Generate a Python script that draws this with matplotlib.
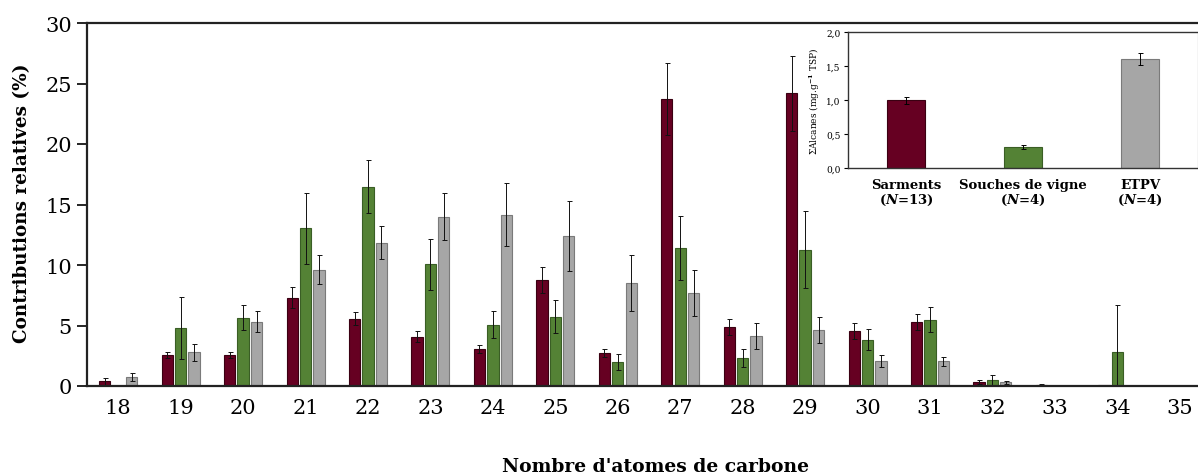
import numpy as np
import matplotlib.pyplot as plt
from matplotlib.ticker import FuncFormatter

plt.rcParams['font.family'] = 'DejaVu Serif'
plt.rcParams['mathtext.fontset'] = 'custom'
plt.rcParams['mathtext.it'] = 'DejaVu Serif:italic:bold'
plt.rcParams['mathtext.rm'] = 'DejaVu Serif:bold'

# nombre d'atomes de carbone
carbons = list(range(18, 36))

# contributions relatives (%) et ecarts-types
sarments = [0.4, 2.56, 2.56, 7.29, 5.56, 4.07, 3.05, 8.75, 2.75, 23.74, 4.9, 24.2, 4.54, 5.31, 0.36, 0.1, 0.05, 0]
sarments_err = [0.3, 0.28, 0.28, 0.88, 0.55, 0.44, 0.3, 1.07, 0.33, 2.97, 0.66, 3.1, 0.66, 0.66, 0.17, 0.05, 0, 0]
souches = [0, 4.76, 5.64, 13.04, 16.48, 10.07, 5.07, 5.73, 1.98, 11.39, 2.31, 11.25, 3.83, 5.48, 0.5, 0, 2.78, 0]
souches_err = [0, 2.56, 1.04, 2.94, 2.2, 2.1, 1.12, 1.35, 0.63, 2.67, 0.72, 3.19, 0.85, 1.04, 0.44, 0, 3.9, 0]
etpv = [0.75, 2.78, 5.31, 9.6, 11.83, 14.0, 14.17, 12.38, 8.53, 7.67, 4.16, 4.62, 2.06, 2.04, 0.3, 0, 0, 0]
etpv_err = [0.33, 0.72, 0.88, 1.2, 1.37, 1.95, 2.58, 2.9, 2.3, 1.9, 1.07, 1.05, 0.47, 0.38, 0.14, 0, 0, 0]

# encart : somme des alcanes (mg/g TSP)
inset_labels = ['Sarments\n($N$=13)', 'Souches de vigne\n($N$=4)', 'ETPV\n($N$=4)']
inset_vals = [1.0, 0.31, 1.61]
inset_err = [0.05, 0.03, 0.09]

c_red, c_green, c_gray = '#660022', '#548235', '#a6a6a6'
e_red, e_green, e_gray = '#3a0012', '#3a5e25', '#7a7a7a'

fig = plt.figure(figsize=(11.98, 4.77), dpi=100)
W, H = 1198, 477
ax = fig.add_axes([87/W, 90/H, (1211-87)/W, 363/H])

x = np.array(carbons, dtype=float)
w, off = 0.18, 0.215
ekw = dict(ecolor='#111111', elinewidth=0.7, capsize=1.8, capthick=0.7)
ax.bar(x - off, sarments, w, yerr=sarments_err, color=c_red, edgecolor=e_red, linewidth=0.8, error_kw=ekw)
ax.bar(x, souches, w, yerr=souches_err, color=c_green, edgecolor=e_green, linewidth=0.8, error_kw=ekw)
ax.bar(x + off, etpv, w, yerr=etpv_err, color=c_gray, edgecolor=e_gray, linewidth=0.8, error_kw=ekw)

ax.set_xlim(17.5, 35.5)
ax.set_ylim(0, 30)
ax.set_yticks(range(0, 31, 5))
ax.set_xticks(carbons)
ax.tick_params(axis='y', length=7, width=1.2, labelsize=15, pad=4)
ax.tick_params(axis='x', length=0, labelsize=15, pad=9)
for s in ['left', 'bottom', 'top']:
    ax.spines[s].set_linewidth(1.6)
    ax.spines[s].set_color('#222222')
ax.spines['right'].set_visible(False)

fig.text(22/W, 1 - 203/H, 'Contributions relatives (%)', rotation=90, ha='center', va='center',
         fontsize=13.2, fontweight='bold')
fig.text(656/W, 1 - 467/H, "Nombre d'atomes de carbone", ha='center', va='center',
         fontsize=13.5, fontweight='bold')

# encart
ins = fig.add_axes([847.7/W, 308/H, (1198.5-847.7)/W, (169-33.3)/H])
xi = np.arange(len(inset_vals))
ins.bar(xi, inset_vals, 0.32, yerr=inset_err, color=[c_red, c_green, c_gray],
        edgecolor=[e_red, e_green, e_gray], linewidth=0.8,
        error_kw=dict(ecolor='black', elinewidth=0.7, capsize=1.8, capthick=0.7))
ins.set_xlim(-0.5, 2.5)
ins.set_ylim(0, 2.0)
ins.set_yticks([0, 0.5, 1.0, 1.5, 2.0])
ins.yaxis.set_major_formatter(FuncFormatter(lambda v, p: f'{v:.1f}'.replace('.', ',')))
ins.set_xticks(xi)
ins.set_xticklabels(inset_labels, fontsize=9.5, fontweight='bold', multialignment='center',
                    linespacing=1.15)
ins.tick_params(axis='x', length=0, pad=7)
ins.tick_params(axis='y', length=3, width=0.8, labelsize=6.5, pad=2)
ins.set_ylabel('ΣAlcanes (mg.g$^{-1}$ TSP)', fontsize=6.5, labelpad=3)
ins.spines['right'].set_color('#cccccc')
ins.spines['left'].set_color('#333333')
ins.spines['top'].set_color('#333333')
ins.spines['bottom'].set_color('#333333')
for s in ins.spines.values():
    s.set_linewidth(1.0)

fig.savefig('out.png', dpi=100)
